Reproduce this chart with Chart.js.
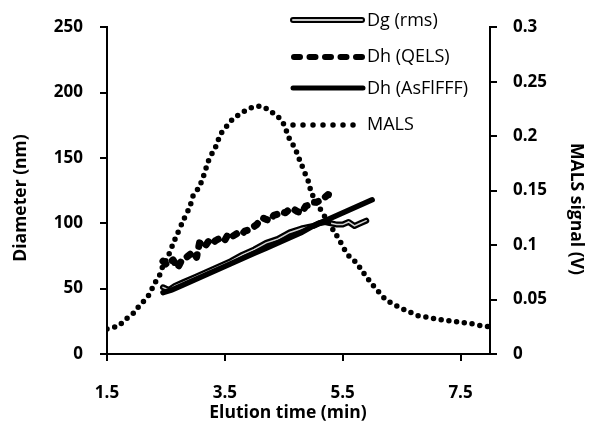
<!DOCTYPE html>
<html>
<head>
<meta charset="utf-8">
<script src="https://cdn.jsdelivr.net/npm/chart.js@4.4.1/dist/chart.umd.min.js"></script>
<style>
  html, body { margin: 0; padding: 0; background: #fff; }
  #wrap { width: 589px; height: 424px; }
</style>
</head>
<body>
<div id="wrap"><canvas id="c" width="589" height="424"></canvas></div>
<script>
// ---- data ----
const xTicks = [1.5, 3.5, 5.5, 7.5];
const leftTicks = [0, 50, 100, 150, 200, 250];
const rightTicks = [0, 0.05, 0.1, 0.15, 0.2, 0.25, 0.3];
const rightTickLabels = ["0", "0.05", "0.1", "0.15", "0.2", "0.25", "0.3"];

const seriesNames = ["Dg (rms)", "Dh (QELS)", "Dh (AsFlFFF)", "MALS"];

const dgTime = [2.45, 2.55, 2.65, 2.8, 3.0, 3.2, 3.4, 3.6, 3.8, 4.0, 4.2, 4.4, 4.6, 4.8, 5.0, 5.1, 5.2, 5.3, 5.4, 5.5, 5.6, 5.7, 5.8, 5.9];
const dgValues = [51, 49, 52, 55, 59, 63, 67, 71, 76, 80, 85, 88, 93, 96, 98, 100, 101, 100, 99, 99, 101, 98, 100, 102];

const qelsTime = [2.45, 2.52, 2.62, 2.70, 2.76, 2.85, 2.96, 3.02, 3.07, 3.16, 3.22, 3.27, 3.35, 3.44, 3.50, 3.56, 3.63, 3.70, 3.77, 3.84, 3.91, 3.98, 4.04, 4.09, 4.15, 4.20, 4.26, 4.33, 4.40, 4.46, 4.53, 4.60, 4.66, 4.73, 4.80, 4.87, 4.92, 4.97, 5.05, 5.14, 5.20, 5.25, 5.30];
const qelsValues = [71, 68, 72, 66, 71, 74, 78, 74, 85, 82, 86, 84, 87, 89, 87, 92, 90, 92, 91, 94, 95, 97, 99, 102, 104, 103, 102, 106, 107, 109, 108, 111, 111, 109, 108, 113, 114, 116, 116, 118, 120, 122, 121];

const asflTime = [2.45, 2.6, 2.8, 3.0, 3.2, 3.4, 3.6, 3.8, 4.0, 4.2, 4.4, 4.6, 4.8, 5.0, 5.2, 5.4, 5.6, 5.8, 6.0];
const asflValues = [47, 49, 53, 57, 61, 65, 69, 73, 77, 81, 85, 89, 93, 98, 102, 106, 110, 114, 118];

const malsTime = [1.50, 1.69, 1.82, 1.94, 2.03, 2.13, 2.22, 2.30, 2.39, 2.45, 2.54, 2.62, 2.70, 2.79, 2.91, 2.96, 3.06, 3.13, 3.22, 3.30, 3.36, 3.42, 3.53, 3.64, 3.75, 3.87, 4.01, 4.15, 4.26, 4.38, 4.49, 4.60, 4.69, 4.74, 4.80, 4.86, 4.92, 4.97, 5.10, 5.22, 5.36, 5.45, 5.53, 5.62, 5.73, 5.82, 5.90, 6.00, 6.11, 6.23, 6.35, 6.49, 6.62, 6.78, 6.92, 7.09, 7.23, 7.37, 7.51, 7.68, 7.85, 7.99];
const malsValues = [0.023, 0.026, 0.032, 0.037, 0.043, 0.049, 0.055, 0.064, 0.072, 0.081, 0.090, 0.101, 0.111, 0.122, 0.136, 0.145, 0.153, 0.162, 0.177, 0.186, 0.192, 0.201, 0.209, 0.216, 0.220, 0.224, 0.227, 0.227, 0.223, 0.219, 0.212, 0.197, 0.189, 0.182, 0.174, 0.166, 0.158, 0.148, 0.135, 0.124, 0.112, 0.104, 0.096, 0.089, 0.084, 0.077, 0.071, 0.064, 0.057, 0.050, 0.046, 0.042, 0.039, 0.035, 0.034, 0.032, 0.031, 0.030, 0.029, 0.028, 0.026, 0.025];

const toXY = (xs, ys) => xs.map((x, i) => ({ x: x, y: ys[i] }));

// ---- custom legend + axis titles ----
const decorPlugin = {
  id: 'decor',
  afterDraw(chart) {
    const ctx = chart.ctx;
    ctx.save();
    const x0 = 291, x1 = 363;
    // Dg: outlined double line
    ctx.lineCap = 'round';
    ctx.strokeStyle = '#000'; ctx.lineWidth = 6;
    ctx.beginPath(); ctx.moveTo(x0 + 2, 20); ctx.lineTo(x1 - 1, 20); ctx.stroke();
    ctx.strokeStyle = '#c8c8c8'; ctx.lineWidth = 2;
    ctx.beginPath(); ctx.moveTo(x0 + 2, 20); ctx.lineTo(x1 - 1, 20); ctx.stroke();
    // QELS dashed
    ctx.lineCap = 'round'; ctx.setLineDash([6, 9.5]); ctx.lineWidth = 6; ctx.strokeStyle = '#000';
    ctx.beginPath(); ctx.moveTo(x0 + 3, 57); ctx.lineTo(x1, 57); ctx.stroke();
    // AsFlFFF solid
    ctx.setLineDash([]); ctx.lineWidth = 5;
    ctx.beginPath(); ctx.moveTo(x0 + 2, 88); ctx.lineTo(x1, 88); ctx.stroke();
    // MALS dotted
    ctx.setLineDash([0, 10]); ctx.lineWidth = 5.5;
    ctx.beginPath(); ctx.moveTo(x0 + 2, 125); ctx.lineTo(x1 - 8, 125); ctx.stroke();
    ctx.setLineDash([]);
    // legend text
    ctx.fillStyle = '#000';
    ctx.font = '18px "Open Sans"';
    ctx.textAlign = 'left'; ctx.textBaseline = 'middle';
    const ys = [21, 57, 89, 125];
    seriesNames.forEach((n, i) => ctx.fillText(n, 367, ys[i]));
    // axis titles
    ctx.font = 'bold 17.5px "Open Sans"';
    ctx.textAlign = 'center';
    ctx.fillText('Elution time (min)', 288, 413);
    ctx.save();
    ctx.translate(21, 198); ctx.rotate(-Math.PI / 2);
    ctx.fillText('Diameter (nm)', 0, 0);
    ctx.restore();
    ctx.save();
    ctx.translate(576, 209); ctx.rotate(Math.PI / 2);
    ctx.fillText('MALS signal (V)', 0, 0);
    ctx.restore();
    ctx.restore();
  }
};

const tickFont = { family: 'Open Sans', size: 17, weight: 'bold' };
const axisCommon = {
  border: { display: true, color: '#000', width: 2 },
  grid: { display: true, drawOnChartArea: false, drawTicks: true, tickLength: 7, color: '#000', lineWidth: 2 },
};

new Chart(document.getElementById('c'), {
  type: 'line',
  data: {
    datasets: [
      { label: seriesNames[3], data: toXY(malsTime, malsValues), yAxisID: 'y2',
        borderColor: '#000', borderWidth: 5.5, borderDash: [0, 7.8], borderCapStyle: 'round',
        tension: 0.3, pointRadius: 0, fill: false, order: 1 },
      { label: seriesNames[1], data: toXY(qelsTime, qelsValues), yAxisID: 'y',
        borderColor: '#000', borderWidth: 7, borderDash: [4, 8.5], borderCapStyle: 'round', borderJoinStyle: 'round',
        pointRadius: 0, fill: false, order: 2 },
      { label: seriesNames[2], data: toXY(asflTime, asflValues), yAxisID: 'y',
        borderColor: '#000', borderWidth: 5.5, borderCapStyle: 'round',
        pointRadius: 0, fill: false, order: 3 },
      { label: seriesNames[0] + ' inner', data: toXY(dgTime, dgValues), yAxisID: 'y',
        borderColor: '#d0d0d0', borderWidth: 1.5, borderCapStyle: 'round',
        pointRadius: 0, fill: false, order: 4 },
      { label: seriesNames[0], data: toXY(dgTime, dgValues), yAxisID: 'y',
        borderColor: '#000', borderWidth: 6, borderCapStyle: 'round', borderJoinStyle: 'round',
        pointRadius: 0, fill: false, order: 5 },
    ]
  },
  options: {
    responsive: false,
    animation: false,
    devicePixelRatio: 1,
    layout: { padding: { top: 25, left: 0, right: 0, bottom: 0 } },
    plugins: { legend: { display: false }, tooltip: { enabled: false } },
    scales: {
      x: Object.assign({}, axisCommon, {
        type: 'linear', position: 'bottom', min: 1.5, max: 8.0,
        afterBuildTicks: (s) => { s.ticks = xTicks.map(v => ({ value: v })); },
        afterFit: (s) => { s.height = 70; },
        ticks: { color: '#000', font: tickFont, padding: 22, maxRotation: 0,
                 callback: (v) => Number(v).toFixed(1) }
      }),
      y: Object.assign({}, axisCommon, {
        type: 'linear', position: 'left', min: 0, max: 250,
        afterBuildTicks: (s) => { s.ticks = leftTicks.map(v => ({ value: v })); },
        afterFit: (s) => { s.width = 107; },
        ticks: { color: '#000', font: tickFont, padding: 17 }
      }),
      y2: Object.assign({}, axisCommon, {
        type: 'linear', position: 'right', min: 0, max: 0.3,
        afterBuildTicks: (s) => { s.ticks = rightTicks.map(v => ({ value: v })); },
        afterFit: (s) => { s.width = 99; },
        ticks: { color: '#000', font: tickFont, padding: 16,
                 callback: (v, i) => rightTickLabels[i] }
      })
    }
  },
  plugins: [decorPlugin]
});
</script>
</body>
</html>
